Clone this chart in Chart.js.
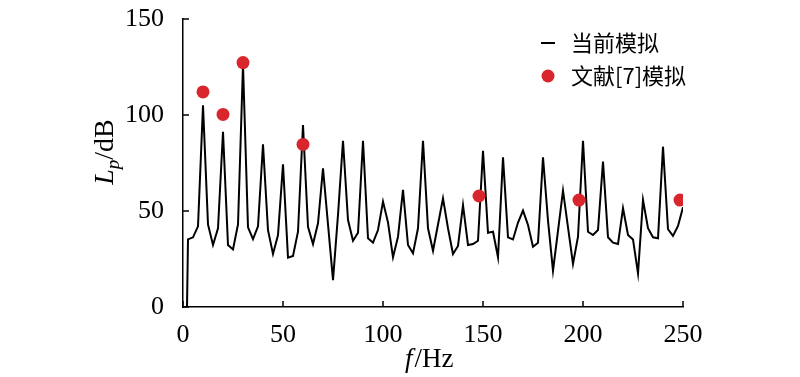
<!DOCTYPE html>
<html>
<head>
<meta charset="utf-8">
<script src="https://cdn.jsdelivr.net/npm/chart.js@4.4.0/dist/chart.umd.min.js"></script>
<style>
  html, body { margin: 0; padding: 0; background: #fff; }
  #wrap { width: 800px; height: 377px; }
</style>
</head>
<body>
<div id="wrap"><canvas id="myChart" width="800" height="377"></canvas></div>
<script>
// current simulation: frequency (Hz) and level (dB)
const freq = [2, 2.5, 5, 7.5, 10, 12.5, 15, 17.5, 20, 22.5, 25, 27.5, 30, 32.5, 35, 37.5, 40,
    42.5, 45, 47.5, 50, 52.5, 55, 57.5, 60, 62.5, 65, 67.5, 70, 72.5, 75, 77.5, 80,
    82.5, 85, 87.5, 90, 92.5, 95, 97.5, 100, 102.5, 105, 107.5, 110, 112.5, 115, 117.5, 120,
    122.5, 125, 127.5, 130, 132.5, 135, 137.5, 140, 142.5, 145, 147.5, 150, 152.5, 155, 157.5, 160,
    162.5, 165, 167.5, 170, 172.5, 175, 177.5, 180, 182.5, 185, 187.5, 190, 192.5, 195, 197.5, 200,
    202.5, 205, 207.5, 210, 212.5, 215, 217.5, 220, 222.5, 225, 227.5, 230, 232.5, 235, 237.5, 240,
    242.5, 245, 247.5, 250];
const level = [0, 35.2, 36.3, 42, 105, 43, 32.3, 41, 91.3, 32.3, 30, 43, 126, 41.5, 35.4, 42, 84.7,
    40, 27.6, 37.5, 74.3, 25.7, 26.6, 39.2, 94.8, 41.8, 32.8, 43.6, 72.2, 43, 14, 48, 86.6,
    45.3, 34.5, 38.7, 86.6, 35.8, 33.5, 40.1, 54.9, 44, 25.9, 36.6, 61, 32.3, 28, 41, 86.6,
    41, 29.3, 43, 56.6, 41, 27.6, 31.8, 53.1, 32.3, 32.8, 34.5, 81.4, 38.7, 39.2, 25.9, 78,
    36.3, 35.2, 44, 50.2, 42.7, 31.4, 33.5, 78, 45, 18.9, 39.7, 60.6, 41.5, 22.4, 36.6, 86.6,
    39.2, 37.5, 40.1, 75.7, 36.3, 33.5, 32.8, 51.4, 37.5, 35.2, 17.5, 55.7, 41, 36.3, 35.8, 83.5,
    40.5, 37, 42.2, 51.9];

// reference [7] simulation
const refFreq = [10, 20, 30, 60, 148, 198, 248.5];
const refLevel = [112, 100.3, 127.3, 84.7, 57.8, 55.7, 55.7];

const xTicks = [0, 50, 100, 150, 200, 250];
const yTicks = [0, 50, 100, 150];

const seriesNames = ['当前模拟', '文献[7]模拟'];

const RED = '#d9262c';
const numFont = "'Liberation Serif', 'DejaVu Serif', serif";
const cjkFont = "'Noto Sans CJK SC', sans-serif";

// inward ticks, axis titles and legend
const decor = {
    id: 'decor',
    afterDraw(chart) {
        const ctx = chart.ctx;
        const xs = chart.scales.x, ys = chart.scales.y;
        const a = chart.chartArea;
        ctx.save();
        ctx.strokeStyle = '#000';
        ctx.lineWidth = 1.5;
        ctx.beginPath();
        xTicks.forEach(v => {
            const px = xs.getPixelForValue(v);
            ctx.moveTo(px, a.bottom);
            ctx.lineTo(px, a.bottom - 6);
        });
        yTicks.forEach(v => {
            const py = ys.getPixelForValue(v);
            ctx.moveTo(a.left, py);
            ctx.lineTo(a.left + 6, py);
        });
        ctx.stroke();

        // x title: f/Hz
        ctx.fillStyle = '#000';
        ctx.textBaseline = 'alphabetic';
        ctx.textAlign = 'left';
        let x0 = 405, yb = 367;
        ctx.font = 'italic 27px ' + numFont;
        ctx.fillText('f', x0, yb);
        let w = ctx.measureText('f').width;
        ctx.font = '27px ' + numFont;
        ctx.fillText('/Hz', x0 + w + 2, yb);

        // y title: Lp/dB rotated
        ctx.save();
        ctx.translate(113, 152);
        ctx.rotate(-Math.PI / 2);
        ctx.font = 'italic 28px ' + numFont;
        const wL = ctx.measureText('L').width;
        ctx.font = 'italic 19px ' + numFont;
        const wp = ctx.measureText('p').width;
        ctx.font = '28px ' + numFont;
        const wd = ctx.measureText('/dB').width;
        let sx = -(wL + wp + wd) / 2;
        ctx.font = 'italic 28px ' + numFont;
        ctx.fillText('L', sx, 0);
        ctx.font = 'italic 19px ' + numFont;
        ctx.fillText('p', sx + wL, 6);
        ctx.font = '28px ' + numFont;
        ctx.fillText('/dB', sx + wL + wp, 0);
        ctx.restore();

        // legend
        ctx.strokeStyle = '#000';
        ctx.lineWidth = 2;
        ctx.beginPath();
        ctx.moveTo(541, 43);
        ctx.lineTo(555, 43);
        ctx.stroke();
        ctx.fillStyle = RED;
        ctx.beginPath();
        ctx.arc(548, 76, 6.5, 0, Math.PI * 2);
        ctx.fill();
        ctx.fillStyle = '#000';
        ctx.textBaseline = 'middle';
        ctx.font = '22px ' + cjkFont;
        ctx.fillText(seriesNames[0], 571, 43);
        ctx.fillText(seriesNames[1], 571, 76);
        ctx.restore();
    }
};

const ctx = document.getElementById('myChart').getContext('2d');
const myChart = new Chart(ctx, {
    type: 'line',
    data: {
        datasets: [{
            label: seriesNames[0],
            data: freq.map((f, i) => ({ x: f, y: level[i] })),
            borderColor: '#000',
            borderWidth: 2,
            pointRadius: 0,
            tension: 0,
            order: 2
        }, {
            label: seriesNames[1],
            data: refFreq.map((f, i) => ({ x: f, y: refLevel[i] })),
            showLine: false,
            pointRadius: 6.5,
            pointBackgroundColor: RED,
            pointBorderWidth: 0,
            order: 1
        }]
    },
    options: {
        responsive: false,
        animation: false,
        layout: { padding: { left: 0, right: 117, top: 19, bottom: 0 } },
        plugins: {
            legend: { display: false },
            tooltip: { enabled: false }
        },
        scales: {
            x: {
                type: 'linear',
                min: 0, max: 250,
                afterBuildTicks: s => { s.ticks = xTicks.map(v => ({ value: v })); },
                afterFit: s => { s.height = 70; s.paddingLeft = 0; s.paddingRight = 0; },
                grid: { display: false },
                border: { display: true, color: '#000', width: 1.5 },
                ticks: { color: '#000', padding: 5, maxRotation: 0, font: { family: numFont, size: 26 } }
            },
            y: {
                min: 0, max: 150,
                afterBuildTicks: s => { s.ticks = yTicks.map(v => ({ value: v })); },
                afterFit: s => { s.width = 183; s.paddingTop = 0; s.paddingBottom = 0; },
                grid: { display: false },
                border: { display: true, color: '#000', width: 1.5 },
                ticks: { color: '#000', padding: 11, font: { family: numFont, size: 26 } }
            }
        }
    },
    plugins: [decor]
});
</script>
</body>
</html>
